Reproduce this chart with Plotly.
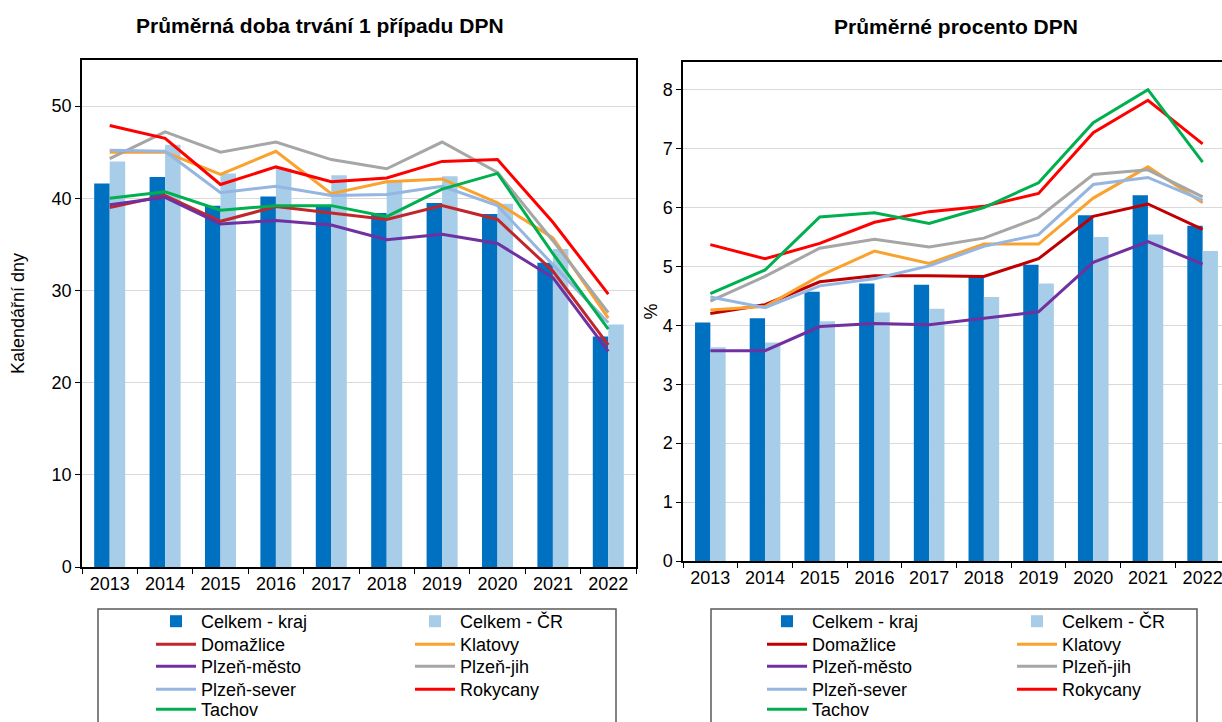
import plotly.graph_objects as go

years = ["2013", "2014", "2015", "2016", "2017", "2018", "2019", "2020", "2021", "2022"]

# Left chart: Průměrná doba trvání 1 případu DPN (kalendářní dny)
d_kraj = [41.6, 42.3, 39.2, 40.2, 39.1, 38.4, 39.5, 38.3, 33.0, 25.0]
d_cr = [44.0, 45.8, 42.7, 43.2, 42.5, 41.8, 42.4, 39.4, 34.5, 26.3]
d_domazlice = [39.0, 40.3, 37.5, 39.1, 38.4, 37.7, 39.2, 37.7, 32.1, 24.1]
d_klatovy = [45.0, 45.0, 42.6, 45.1, 40.5, 41.8, 42.1, 39.5, 35.7, 27.0]
d_plzen_mesto = [39.3, 40.1, 37.2, 37.6, 37.1, 35.5, 36.1, 35.1, 31.4, 23.4]
d_plzen_jih = [44.3, 47.2, 45.0, 46.1, 44.2, 43.2, 46.1, 42.8, 35.4, 27.6]
d_plzen_sever = [45.2, 45.1, 40.6, 41.3, 40.3, 40.4, 41.3, 39.2, 32.8, 26.5]
d_rokycany = [47.9, 46.5, 41.5, 43.4, 41.8, 42.2, 44.0, 44.2, 37.4, 29.6]
d_tachov = [40.0, 40.7, 38.7, 39.2, 39.2, 38.0, 41.0, 42.7, 34.0, 25.8]

# Right chart: Průměrné procento DPN (%)
p_kraj = [4.05, 4.12, 4.57, 4.71, 4.69, 4.83, 5.03, 5.87, 6.21, 5.69]
p_cr = [3.63, 3.71, 4.07, 4.22, 4.28, 4.48, 4.71, 5.50, 5.54, 5.26]
p_domazlice = [4.20, 4.35, 4.74, 4.84, 4.84, 4.83, 5.13, 5.85, 6.06, 5.63]
p_klatovy = [4.26, 4.32, 4.84, 5.26, 5.05, 5.38, 5.38, 6.16, 6.69, 6.08]
p_plzen_mesto = [3.57, 3.57, 3.98, 4.03, 4.01, 4.12, 4.23, 5.07, 5.42, 5.04]
p_plzen_jih = [4.41, 4.83, 5.31, 5.46, 5.33, 5.48, 5.83, 6.56, 6.64, 6.18]
p_plzen_sever = [4.48, 4.30, 4.67, 4.79, 5.01, 5.34, 5.54, 6.39, 6.51, 6.12]
p_rokycany = [5.37, 5.13, 5.39, 5.75, 5.93, 6.02, 6.24, 7.27, 7.82, 7.08]
p_tachov = [4.54, 4.94, 5.84, 5.91, 5.73, 6.00, 6.42, 7.44, 8.00, 6.77]

bar_names = ["Celkem - kraj", "Celkem - ČR"]
bar_colors = ["#0070C0", "#A7CDE8"]
line_names = ["Domažlice", "Klatovy", "Plzeň-město", "Plzeň-jih", "Plzeň-sever", "Rokycany", "Tachov"]
line_colors_left = ["#C0272D", "#FAA22E", "#7030A0", "#A6A6A6", "#95B6E0", "#FF0000", "#00B050"]
line_colors_right = ["#C00000", "#FAA22E", "#7030A0", "#A6A6A6", "#95B6E0", "#FF0000", "#00B050"]

left_bars = [d_kraj, d_cr]
left_lines = [d_domazlice, d_klatovy, d_plzen_mesto, d_plzen_jih, d_plzen_sever, d_rokycany, d_tachov]
right_bars = [p_kraj, p_cr]
right_lines = [p_domazlice, p_klatovy, p_plzen_mesto, p_plzen_jih, p_plzen_sever, p_rokycany, p_tachov]

FONT = "Liberation Sans, Arial, sans-serif"
W, H = 1222, 722


def px_x(p):
    return p / W


def px_y(p):
    return 1 - p / H


fig = go.Figure()

# legend grid: two columns, rows read left-to-right (one small legend per entry)
row_centers = [620, 643, 665, 688, 708]
legend_cfg = {}
leg_counter = [0]


def next_legend_id():
    leg_counter[0] += 1
    return "legend" if leg_counter[0] == 1 else "legend%d" % leg_counter[0]


def add_chart(bars, lines, colors, xa, ya, col_x):
    traces = []
    for name, vals, col in zip(bar_names, bars, bar_colors):
        traces.append(go.Bar(x=years, y=vals, name=name, marker=dict(color=col, line=dict(width=0)),
                             xaxis=xa, yaxis=ya))
    for name, vals, col in zip(line_names, lines, colors):
        traces.append(go.Scatter(x=years, y=vals, name=name, mode="lines",
                                 line=dict(color=col, width=3), xaxis=xa, yaxis=ya))
    for i, tr in enumerate(traces):
        lid = next_legend_id()
        tr.legend = lid
        legend_cfg[lid] = (col_x[i % 2], row_centers[i // 2])
        fig.add_trace(tr)


add_chart(left_bars, left_lines, line_colors_left, "x", "y", [151, 410])
add_chart(right_bars, right_lines, line_colors_right, "x2", "y2", [762, 1012])

tickfont = dict(family=FONT, size=18, color="#000000")
axis_common = dict(showline=True, linecolor="#000000", linewidth=1.5, tickfont=tickfont,
                   ticks="outside", ticklen=5, tickcolor="#000000", automargin=False)
title_font = dict(family=FONT, size=18, color="#000")

fig.update_layout(
    xaxis=dict(domain=[px_x(82), px_x(636)], anchor="y", type="category", range=[-0.5, 9.5],
               tickson="boundaries", mirror=True, showgrid=False, **axis_common),
    yaxis=dict(domain=[px_y(567), px_y(60)], anchor="x", range=[0, 55], dtick=10, mirror=True,
               showgrid=True, gridcolor="#D9D9D9", gridwidth=1, zeroline=False,
               title=dict(text="Kalendářní dny", font=title_font, standoff=22),
               **axis_common),
    xaxis2=dict(domain=[px_x(683), 1.0], anchor="y2", type="category", range=[-0.5, 9.354],
                tickson="boundaries", mirror=True, showgrid=False, **axis_common),
    yaxis2=dict(domain=[px_y(561), px_y(62)], anchor="x2", range=[0, 8.47], dtick=1,
                showgrid=True, gridcolor="#D9D9D9", gridwidth=1, zeroline=False,
                title=dict(text="%", font=title_font, standoff=0),
                **axis_common),
)

fig.update_layout(
    width=W, height=H, autosize=False,
    margin=dict(l=0, r=0, t=0, b=0, autoexpand=False),
    paper_bgcolor="white", plot_bgcolor="white",
    barmode="group", bargap=0.44, bargroupgap=0,
    font=dict(family=FONT, size=18, color="#000"),
    showlegend=True,
)

leg_common = dict(orientation="v", bgcolor="rgba(0,0,0,0)", borderwidth=0,
                  font=dict(family=FONT, size=18, color="#000"), xanchor="left", yanchor="top",
                  tracegroupgap=0, itemwidth=40)
for lid, (lx, cy) in legend_cfg.items():
    fig.update_layout({lid: dict(x=px_x(lx), y=px_y(cy - 17), **leg_common)})

# legend frames
fig.add_shape(type="rect", xref="paper", yref="paper", x0=px_x(98), x1=px_x(616),
              y0=px_y(740), y1=px_y(609), line=dict(color="#595959", width=1.5), fillcolor="rgba(0,0,0,0)")
fig.add_shape(type="rect", xref="paper", yref="paper", x0=px_x(711), x1=px_x(1197),
              y0=px_y(740), y1=px_y(609), line=dict(color="#595959", width=1.5), fillcolor="rgba(0,0,0,0)")

# titles
fig.add_annotation(text="<b>Průměrná doba trvání 1 případu DPN</b>", xref="paper", yref="paper",
                   x=px_x(320), y=px_y(26), showarrow=False, xanchor="center", yanchor="middle",
                   font=dict(family=FONT, size=21, color="#000"))
fig.add_annotation(text="<b>Průměrné procento DPN</b>", xref="paper", yref="paper",
                   x=px_x(956), y=px_y(27), showarrow=False, xanchor="center", yanchor="middle",
                   font=dict(family=FONT, size=21, color="#000"))

fig.write_html("out.html", post_script="document.body.style.margin='0px';",
               config={"displayModeBar": False, "responsive": False})
